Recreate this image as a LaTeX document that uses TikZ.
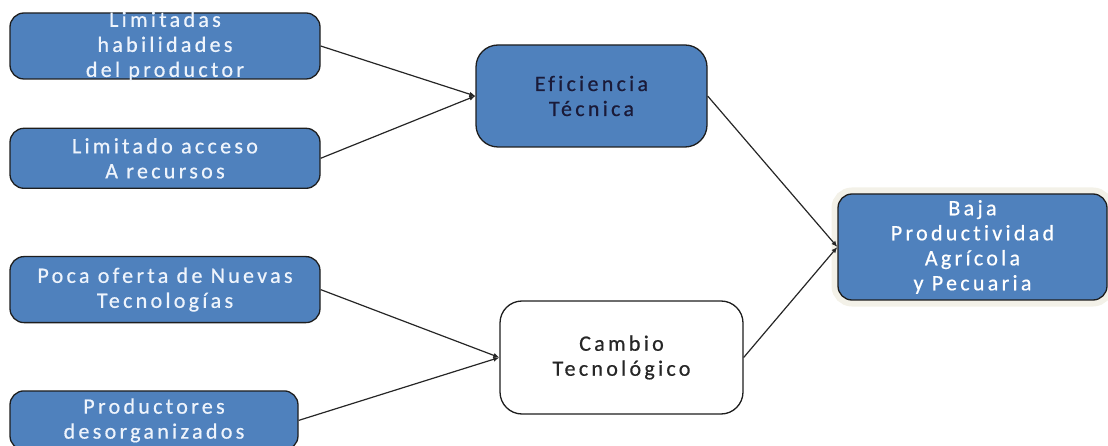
\documentclass[tikz,border=0pt]{standalone}
\usepackage{fontspec}
\setmainfont{Carlito}[LetterSpace=15, Ligatures=NoCommon, FakeBold=0.6]
\usepackage{xcolor}
\usetikzlibrary{arrows.meta, positioning}

\definecolor{boxblue}{HTML}{4F81BD}
\definecolor{boxline}{HTML}{1E1E1E}
\definecolor{txtlight}{HTML}{EEF4FC}
\definecolor{txtdark}{HTML}{1A1A38}
\definecolor{glow}{HTML}{F3F1E8}

\begin{document}
\begin{tikzpicture}[
    x=1pt, y=-1pt,
    box/.style={rectangle, rounded corners=14pt, draw=boxline, line width=1.3pt, inner xsep=4pt, inner ysep=-5pt, align=center, font=\fontsize{22}{25}\selectfont},
    cause/.style={box, fill=boxblue, text=txtlight, minimum width=310pt},
    factor/.style={box, rounded corners=22pt, minimum width=231pt, minimum height=102pt},
    arrow/.style={-{Latex[length=6pt, width=5pt]}, line width=1.2pt, color=black!85}
    ]
    \useasboundingbox (0,0) rectangle (1108,446);

    % Nodes
    \node[cause, minimum height=66pt] (skills) at (165,46) {Limitadas\\habilidades\\del productor};
    \node[cause, minimum height=60pt, below=48pt of skills] (access) {Limitado acceso\\A recursos};
    \node[cause, minimum height=66pt, below=67pt of access] (supply) {Poca oferta de Nuevas\\Tecnologías};
    \node[cause, minimum width=288pt, minimum height=59pt, below=67pt of supply.south west, anchor=north west] (farmers) {Productores\\desorganizados};
    \node[factor, fill=boxblue, text=txtdark] (eff) at (591.5,96) {Eficiencia\\Técnica};
    \node[factor, fill=white, text=black!85, minimum width=243pt, minimum height=113pt] (tech) at (621.5,357.5) {Cambio\\Tecnológico};
    \node[box, fill=boxblue, text=white, minimum width=269pt, minimum height=106pt, preaction={draw=glow, line width=13pt}] (prod) at (972.5,247) {Baja\\Productividad\\Agrícola\\y Pecuaria};

    % Edges
    \draw[arrow] (skills.east) -- (eff.west);
    \draw[arrow] (access.east) -- (eff.west);
    \draw[arrow] (supply.east) -- (tech.west);
    \draw[arrow] (farmers.east) -- (tech.west);
    \draw[arrow] (eff.east) -- (prod.west);
    \draw[arrow] (tech.east) -- (prod.west);
\end{tikzpicture}
\end{document}
